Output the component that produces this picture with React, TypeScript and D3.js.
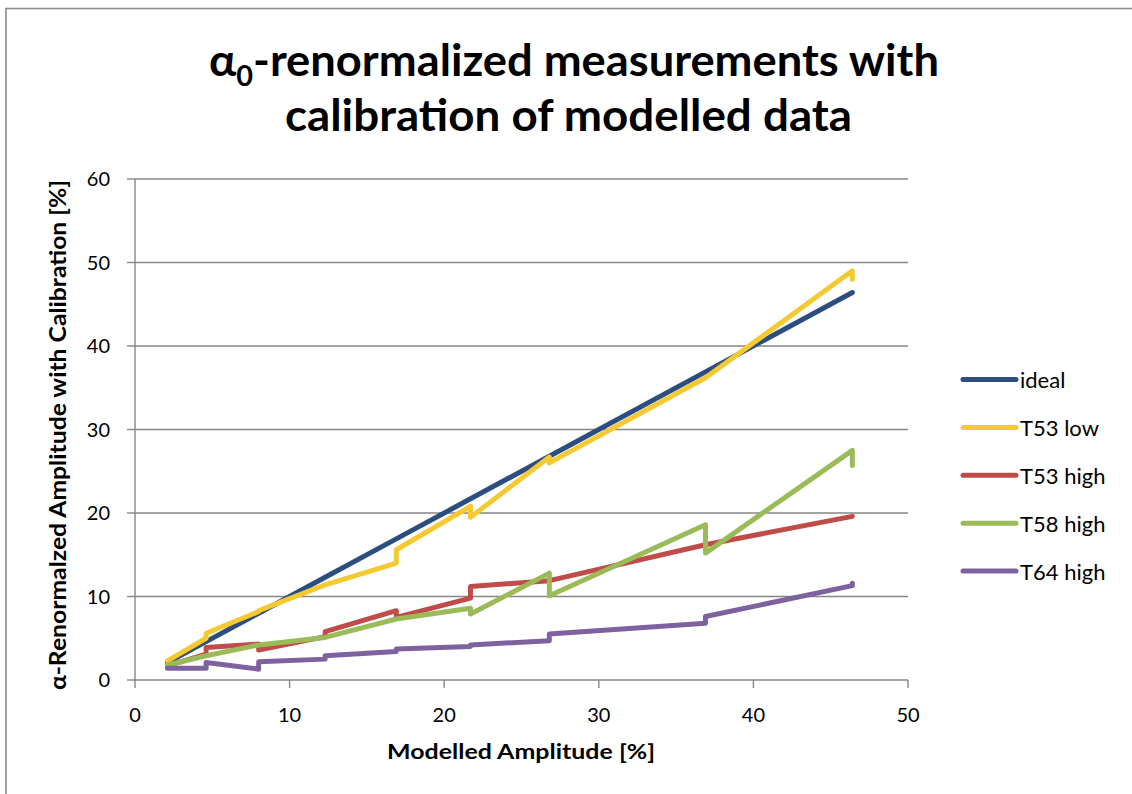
import { useMemo } from 'react';
import * as d3 from 'd3';

type Pt = [number, number];

// modelled amplitudes (each step appears twice where the curve jumps)
const ideal: Pt[] = [[2.1, 2.1], [4.6, 4.6], [8.0, 8.0], [12.3, 12.3], [16.9, 16.9], [21.7, 21.7], [26.8, 26.8], [36.9, 36.9], [46.4, 46.4]];
const t53Low: Pt[] = [[2.1, 2.3], [4.6, 5.0], [4.6, 5.6], [8.0, 8.2], [8.0, 8.3], [12.3, 11.4], [16.9, 14.0], [16.9, 15.6], [21.7, 20.8], [21.7, 19.5], [26.8, 26.7], [26.8, 26.0], [36.9, 36.2], [46.4, 49.0], [46.4, 48.0]];
const t53High: Pt[] = [[2.1, 1.7], [4.6, 3.1], [4.6, 3.9], [8.0, 4.3], [8.0, 3.6], [12.3, 5.2], [12.3, 5.8], [16.9, 8.3], [16.9, 7.5], [21.7, 9.8], [21.7, 11.2], [26.8, 11.9], [36.9, 16.2], [46.4, 19.6]];
const t58High: Pt[] = [[2.1, 1.8], [4.6, 2.9], [8.0, 4.2], [12.3, 5.1], [16.9, 7.3], [21.7, 8.6], [21.7, 7.9], [26.8, 12.8], [26.8, 10.1], [36.9, 18.6], [36.9, 15.2], [46.4, 27.5], [46.4, 25.7]];
const t64High: Pt[] = [[2.1, 1.4], [4.6, 1.4], [4.6, 2.1], [8.0, 1.3], [8.0, 2.2], [12.3, 2.5], [12.3, 2.9], [16.9, 3.4], [16.9, 3.7], [21.7, 4.0], [21.7, 4.2], [26.8, 4.7], [26.8, 5.5], [36.9, 6.8], [36.9, 7.6], [46.4, 11.3], [46.4, 11.6]];

const seriesNames = ['ideal', 'T53 low', 'T53 high', 'T58 high', 'T64 high'];
const seriesData = [ideal, t53Low, t53High, t58High, t64High];
const seriesColors = ['#2c4e7f', '#f4c932', '#bf4c49', '#9bbb59', '#7e62a0'];

const xTicks = [0, 10, 20, 30, 40, 50];
const yTicks = [0, 10, 20, 30, 40, 50, 60];

const FONT = 'Lato, "Open Sans", sans-serif';
const GRID = '#868686';

export default function App() {
  const W = 1132;
  const H = 794;
  const plot = { left: 135, right: 908, top: 179, bottom: 680 };

  const x = d3.scaleLinear().domain([0, 50]).range([plot.left, plot.right]);
  const y = d3.scaleLinear().domain([0, 60]).range([plot.bottom, plot.top]);

  const line = useMemo(
    () =>
      d3
        .line<Pt>()
        .x((d) => x(d[0]))
        .y((d) => y(d[1])),
    []
  );

  return (
    <svg
      width={W}
      height={H}
      style={{ position: 'absolute', left: 0, top: 0, background: '#fff' }}
      fontFamily={FONT}
    >
      {/* chart frame */}
      <rect x={6} y={8.5} width={W + 20} height={H + 20} fill="#fff" stroke="#8c8c8c" strokeWidth={1.6} />

      {/* title */}
      <text x={574} y={76} textAnchor="middle" fontSize={44} fontWeight={700} fill="#000" textLength={730} lengthAdjust="spacingAndGlyphs">
        α<tspan fontSize={28} dy={10}>0</tspan>
        <tspan dy={-10}>-renormalized measurements with</tspan>
      </text>
      <text x={568.5} y={131} textAnchor="middle" fontSize={44} fontWeight={700} fill="#000" textLength={567} lengthAdjust="spacingAndGlyphs">
        calibration of modelled data
      </text>

      {/* gridlines */}
      {yTicks.map((t) => (
        <line key={'g' + t} x1={plot.left} x2={plot.right} y1={y(t)} y2={y(t)} stroke={GRID} strokeWidth={1.4} />
      ))}

      {/* axes */}
      <line x1={plot.left} x2={plot.left} y1={plot.top} y2={plot.bottom} stroke={GRID} strokeWidth={1.4} />
      {yTicks.map((t) => (
        <g key={'y' + t}>
          <line x1={plot.left - 8} x2={plot.left} y1={y(t)} y2={y(t)} stroke={GRID} strokeWidth={1.4} />
          <text x={110} y={y(t) + 7} textAnchor="end" fontSize={20} fill="#000">
            {t}
          </text>
        </g>
      ))}
      {xTicks.map((t) => (
        <g key={'x' + t}>
          <line x1={x(t)} x2={x(t)} y1={plot.bottom} y2={plot.bottom + 8} stroke={GRID} strokeWidth={1.4} />
          <text x={x(t)} y={722} textAnchor="middle" fontSize={20} fill="#000">
            {t}
          </text>
        </g>
      ))}

      {/* axis titles */}
      <text x={521} y={759} textAnchor="middle" fontSize={20} fontWeight={700} fill="#000" textLength={268} lengthAdjust="spacingAndGlyphs">
        Modelled Amplitude [%]
      </text>
      <text
        transform={`translate(66,${(690 + 180) / 2}) rotate(-90)`}
        textAnchor="middle"
        fontSize={22}
        fontWeight={700}
        fill="#000"
        textLength={510}
        lengthAdjust="spacingAndGlyphs"
      >
        α-Renormalzed Amplitude with Calibration [%]
      </text>

      {/* series */}
      {seriesData.map((d, i) => (
        <path
          key={seriesNames[i]}
          d={line(d) || ''}
          fill="none"
          stroke={seriesColors[i]}
          strokeWidth={5}
          strokeLinejoin="round"
          strokeLinecap="round"
        />
      ))}

      {/* legend */}
      {seriesNames.map((n, i) => {
        const cy = 379.5 + i * 47.9;
        return (
          <g key={'l' + n}>
            <line x1={963} x2={1016} y1={cy} y2={cy} stroke={seriesColors[i]} strokeWidth={5} strokeLinecap="round" />
            <text x={1020} y={cy + 8.5} fontSize={22} fill="#000">
              {n}
            </text>
          </g>
        );
      })}
    </svg>
  );
}
